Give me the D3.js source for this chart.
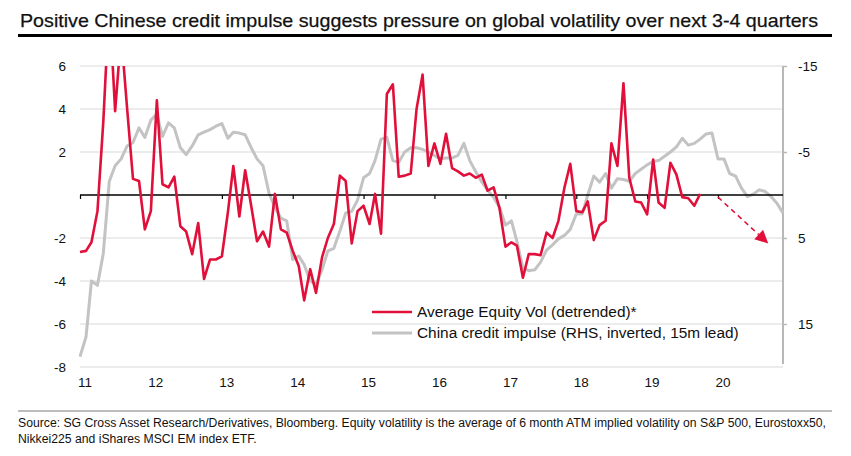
<!DOCTYPE html>
<html>
<head>
<meta charset="utf-8">
<script src="https://cdn.jsdelivr.net/npm/d3@7"></script>
<style>
  html, body { margin: 0; padding: 0; background: #fff; }
  svg { display: block; font-family: "Liberation Sans", Arial, Helvetica, sans-serif; }
</style>
</head>
<body>
<svg id="chart" width="851" height="456"></svg>
<script>
// ---------------- DATA ----------------
const titleText = "Positive Chinese credit impulse suggests pressure on global volatility over next 3-4 quarters";
const footerLines = [
  "Source: SG Cross Asset Research/Derivatives, Bloomberg. Equity volatility is the average of 6 month ATM implied volatility on S&P 500, Eurostoxx50,",
  "Nikkei225 and iShares MSCI EM index ETF."
];
const startYear = 2011; // monthly series starting Jan 2011
const seriesNames = ["Average Equity Vol (detrended)*", "China credit impulse (RHS, inverted, 15m lead)"];

// Average equity vol (detrended), left axis, monthly from Jan 2011
const equityVol = [
  -2.65, -2.6, -2.2, -0.75, 3.4, 9.0, 3.9, 7.5, 4.0, 0.75, 0.65, -1.6,
  -0.75, 4.4, 0.5, 0.35, 0.85, -1.45, -1.7, -2.75, -1.3, -3.9, -3.0, -3.0,
  -2.85, -0.8, 1.35, -1.0, 1.15, -0.5, -2.15, -1.7, -2.4, 0.05, -1.6, -1.75,
  -2.6, -3.3, -4.9, -3.45, -4.55, -2.9, -2.0, -1.35, 0.9, 0.65, -2.25, -0.75,
  -0.5, -1.35, 0.05, -1.8, 4.7, 5.15, 0.85, 0.9, 1.0, 4.0, 5.6, 1.35,
  2.4, 1.45, 2.85, 1.25, 1.1, 0.9, 1.0, 0.8, 0.95, 0.2, 0.35, -0.6,
  -2.4, -2.2, -2.35, -3.85, -2.75, -2.75, -2.8, -1.75, -2.0, -1.2, 0.35, 1.45,
  -0.75, -0.8, -0.3, -2.1, -1.4, -1.2, 2.4, 1.35, 5.2, 0.8, -0.3, -0.35,
  -0.9, 1.65, -0.35, -0.6, 1.5, 0.95, -0.1, -0.15, -0.5, 0.05
];

// China credit impulse (RHS, inverted, 15m lead), monthly from Jan 2011
const creditImpulse = [
  18.8, 16.5, 10.0, 10.5, 6.8, -1.6, -3.4, -4.2, -5.7, -6.1, -7.8, -6.7,
  -8.7, -9.4, -6.8, -8.4, -7.8, -5.5, -4.7, -5.7, -7.0, -7.3, -7.6, -8.0,
  -8.3, -6.6, -7.3, -7.2, -7.0, -5.5, -4.2, -3.4, -0.2, 1.4, 2.7, 3.0,
  7.5, 7.1, 8.1, 10.0, 10.4, 8.7, 6.5, 6.2, 4.2, 2.1, 1.9, 0.6,
  -2.0, -2.5, -4.0, -6.5, -6.7, -4.0, -3.8, -5.0, -5.5, -5.5, -5.3, -5.0,
  -4.6, -4.2, -4.3, -4.3, -4.6, -6.0, -4.0, -2.7, -1.5, -0.6, 0.3, 1.4,
  3.5, 3.0, 5.4, 8.5, 8.8, 8.7, 7.8, 6.4, 5.8, 5.1, 4.7, 4.0,
  2.2, 2.2, 0.0, -2.2, -1.5, -2.5, -0.8, -1.9, -1.8, -1.6, -2.5, -3.0,
  -3.5, -3.9, -4.0, -4.5, -5.0, -5.6, -6.6, -5.8, -6.0, -6.5, -7.1, -7.2,
  -4.2, -4.2, -2.5, -2.2, -0.8, 0.2, -0.1, -0.6, -0.4, 0.2, 1.0, 2.1
];

const leftTicks = [6, 4, 2, 0, -2, -4, -6, -8];
const leftTickLabels = ["6", "4", "2", "", "-2", "-4", "-6", "-8"];
const rightTicks = [-15, -5, 5, 15];
const rightTickLabels = ["-15", "-5", "5", "15"];
const yearTicks = [2011, 2012, 2013, 2014, 2015, 2016, 2017, 2018, 2019, 2020];
const yearLabels = ["11", "12", "13", "14", "15", "16", "17", "18", "19", "20"];

// Projection arrow annotation: [monthIndex, left-axis value]
const arrowFrom = [108, -0.1];
const arrowTo = [116.5, -2.25];

// ---------------- CHART ----------------
const svg = d3.select("#chart");
const plot = { left: 80, right: 783, top: 66, bottom: 367 };
const RED = "#e0103a";
const GREY = "#c3c3c3";

const x = d3.scaleTime()
  .domain([new Date(startYear, 0, 1), new Date(startYear, 119, 1)])
  .range([plot.left, plot.right]);
const xi = i => {
  const fl = Math.floor(i), fr = i - fl;
  return x(new Date(startYear, fl, 1)) * (1 - fr) + x(new Date(startYear, fl + 1, 1)) * fr;
};
const yL = d3.scaleLinear().domain([-8, 6]).range([plot.bottom, plot.top]);
const yR = d3.scaleLinear().domain([20, -15]).range([plot.bottom, plot.top]);

// Title
const title = svg.append("text")
  .attr("x", 20).attr("y", 27)
  .attr("font-size", 19)
  .attr("fill", "#111")
  .attr("stroke", "#111").attr("stroke-width", 0.25)
  .text(titleText);
title.attr("textLength", 798).attr("lengthAdjust", "spacingAndGlyphs");
svg.append("line").attr("x1", 18).attr("x2", 832).attr("y1", 35.5).attr("y2", 35.5)
  .attr("stroke", "#000").attr("stroke-width", 3);

// Gridlines
svg.append("g").selectAll("line").data(leftTicks.filter(d => d !== 0)).join("line")
  .attr("x1", plot.left).attr("x2", plot.right)
  .attr("y1", d => yL(d)).attr("y2", d => yL(d))
  .attr("stroke", "#d9d9d9").attr("stroke-width", 1);

// Left axis labels
const leftAxis = d3.axisLeft(yL).tickValues(leftTicks).tickSize(0).tickPadding(14)
  .tickFormat((d, i) => leftTickLabels[i]);
const gl = svg.append("g").attr("transform", `translate(${plot.left},0)`).call(leftAxis);
gl.select(".domain").remove();
gl.selectAll("text").attr("font-size", 13.5).attr("fill", "#111")
  .attr("font-family", "'Liberation Sans', Arial, sans-serif");

// Right axis
const rightAxis = d3.axisRight(yR).tickValues(rightTicks).tickSize(4).tickPadding(11)
  .tickFormat((d, i) => rightTickLabels[i]);
const gr = svg.append("g").attr("transform", `translate(${plot.right},0)`).call(rightAxis);
gr.select(".domain").attr("stroke", "#b8b8b8").attr("stroke-width", 2)
  .attr("d", `M0,${plot.top}V${plot.bottom - 3}`);
gr.selectAll(".tick line").attr("stroke", "#b8b8b8").attr("stroke-width", 1.5);
gr.selectAll("text").attr("font-size", 13.5).attr("fill", "#111")
  .attr("font-family", "'Liberation Sans', Arial, sans-serif");

// Clip
svg.append("clipPath").attr("id", "clip").append("rect")
  .attr("x", plot.left - 5).attr("y", plot.top).attr("width", plot.right - plot.left + 10)
  .attr("height", plot.bottom - plot.top);

// Grey line (RHS)
const greyLine = d3.line().x((d, i) => xi(i)).y(d => yR(d));
svg.append("path").datum(creditImpulse)
  .attr("clip-path", "url(#clip)")
  .attr("fill", "none").attr("stroke", GREY).attr("stroke-width", 3)
  .attr("stroke-linejoin", "round")
  .attr("d", greyLine);

// Zero line + x axis ticks
const xAxis = d3.axisBottom(x)
  .tickValues(yearTicks.map(y => new Date(y, 0, 1)))
  .tickSize(4).tickFormat("");
const gx = svg.append("g").attr("transform", `translate(0,${yL(0)})`).call(xAxis);
gx.select(".domain").attr("stroke", "#000").attr("stroke-width", 1.5)
  .attr("d", `M${plot.left},0H${plot.right}`);
gx.selectAll(".tick line").attr("stroke", "#000").attr("stroke-width", 1.2);

// Red line
const redLine = d3.line().x((d, i) => xi(i)).y(d => yL(d));
svg.append("path").datum(equityVol)
  .attr("clip-path", "url(#clip)")
  .attr("fill", "none").attr("stroke", RED).attr("stroke-width", 2.6)
  .attr("stroke-linejoin", "round")
  .attr("d", redLine);

// Year labels along bottom
svg.append("g").selectAll("text").data(yearTicks).join("text")
  .attr("x", d => x(new Date(d, 0, 1)) + 5)
  .attr("y", 387)
  .attr("text-anchor", "middle")
  .attr("font-size", 13.5).attr("fill", "#111")
  .text((d, i) => yearLabels[i]);

// Dashed projection arrow
const ax1 = xi(arrowFrom[0]), ay1 = yL(arrowFrom[1]);
const ax2 = xi(arrowTo[0]), ay2 = yL(arrowTo[1]);
const ang = Math.atan2(ay2 - ay1, ax2 - ax1);
const headLen = 13, headW = 6.5;
const bx = ax2 - headLen * Math.cos(ang), by = ay2 - headLen * Math.sin(ang);
svg.append("line")
  .attr("x1", ax1).attr("y1", ay1).attr("x2", bx).attr("y2", by)
  .attr("stroke", RED).attr("stroke-width", 1.6).attr("stroke-dasharray", "5,4");
svg.append("path")
  .attr("d", `M${ax2},${ay2}L${bx - headW * Math.sin(ang)},${by + headW * Math.cos(ang)}L${bx + headW * Math.sin(ang)},${by - headW * Math.cos(ang)}Z`)
  .attr("fill", RED);

// Legend
const legend = svg.append("g");
const legItems = [
  { name: seriesNames[0], color: RED, w: 2.6, y: 312 },
  { name: seriesNames[1], color: GREY, w: 3, y: 333 }
];
legItems.forEach(it => {
  legend.append("line").attr("x1", 372).attr("x2", 412).attr("y1", it.y).attr("y2", it.y)
    .attr("stroke", it.color).attr("stroke-width", it.w);
  legend.append("text").attr("x", 417).attr("y", it.y + 5)
    .attr("font-size", 15.4).attr("fill", "#111").text(it.name);
});

// Footer
svg.append("line").attr("x1", 18).attr("x2", 832).attr("y1", 411).attr("y2", 411)
  .attr("stroke", "#bdbdbd").attr("stroke-width", 2);
const f1 = svg.append("text").attr("x", 18).attr("y", 427)
  .attr("font-size", 12).attr("fill", "#111").text(footerLines[0]);
const f1W = f1.node().getComputedTextLength();
const ratio = 808 / f1W;
f1.attr("textLength", 808).attr("lengthAdjust", "spacingAndGlyphs");
const f2 = svg.append("text").attr("x", 18).attr("y", 443)
  .attr("font-size", 12).attr("fill", "#111").text(footerLines[1]);
const f2W = f2.node().getComputedTextLength();
f2.attr("textLength", f2W * ratio).attr("lengthAdjust", "spacingAndGlyphs");
</script>
</body>
</html>
